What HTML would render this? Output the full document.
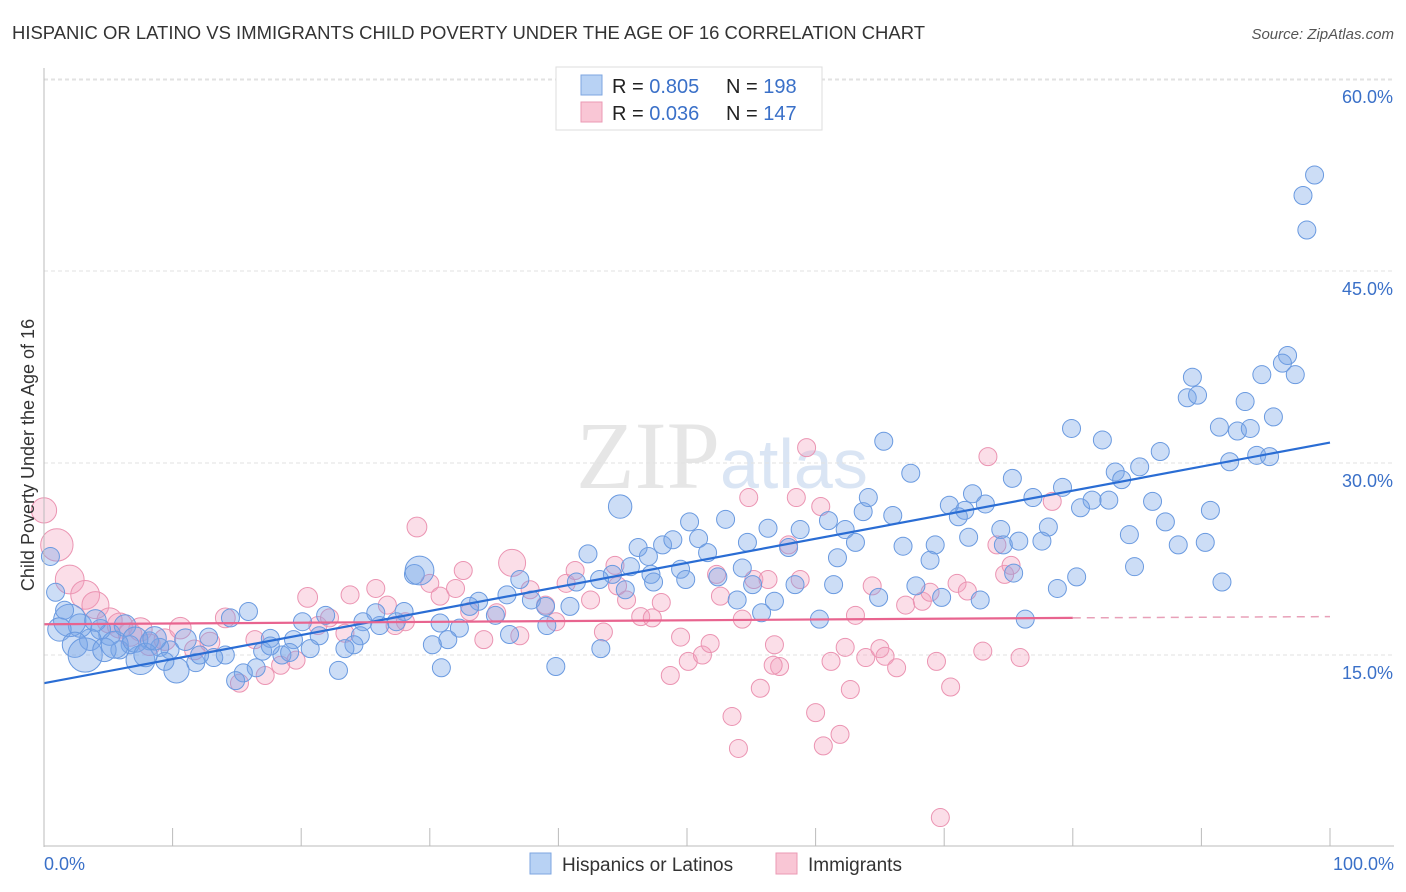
<!DOCTYPE html>
<html><head><meta charset="utf-8"><style>
body{margin:0;background:#fff;font-family:"Liberation Sans",sans-serif}
#wrap{position:relative;width:1406px;height:892px;overflow:hidden}
</style></head><body>
<div id="wrap">
<svg id="svg" width="1406" height="892" xmlns="http://www.w3.org/2000/svg">
<text x="12" y="39" font-size="18" fill="#333" textLength="913" lengthAdjust="spacingAndGlyphs">HISPANIC OR LATINO VS IMMIGRANTS CHILD POVERTY UNDER THE AGE OF 16 CORRELATION CHART</text>
<text x="1394" y="39" font-size="15" fill="#555" font-style="italic" text-anchor="end">Source: ZipAtlas.com</text>
<text x="720" y="488" font-size="96" fill="#e6e6e6" text-anchor="end" font-family="Liberation Serif">ZIP</text>
<text x="720" y="488" font-size="70" fill="#dae5f4">atlas</text>
<g id="grid"></g><g id="pink"></g><g id="blue"></g><g id="lines"></g><g id="axes"></g>
<text transform="translate(34,455) rotate(-90)" font-size="18" fill="#333" text-anchor="middle">Child Poverty Under the Age of 16</text>
<text x="44" y="870" font-size="18" fill="#3a70c8">0.0%</text>
<text x="1394" y="870" font-size="18" fill="#3a70c8" text-anchor="end">100.0%</text>
<g>
<rect x="556" y="67" width="266" height="63" fill="#fff" stroke="#ddd"/>
<rect x="581" y="75" width="21" height="20" fill="#b8d2f4" stroke="#7ea6e0"/>
<rect x="581" y="102" width="21" height="20" fill="#f9c6d5" stroke="#eb9ab4"/>
<text x="612" y="93" font-size="20" fill="#222">R = <tspan fill="#3a70c8">0.805</tspan></text>
<text x="726" y="93" font-size="20" fill="#222">N = <tspan fill="#3a70c8">198</tspan></text>
<text x="612" y="120" font-size="20" fill="#222">R = <tspan fill="#3a70c8">0.036</tspan></text>
<text x="726" y="120" font-size="20" fill="#222">N = <tspan fill="#3a70c8">147</tspan></text>
</g>
<g>
<rect x="530" y="853" width="21" height="21" fill="#b8d2f4" stroke="#7ea6e0"/>
<text x="562" y="871" font-size="19" fill="#333">Hispanics or Latinos</text>
<rect x="776" y="853" width="21" height="21" fill="#f9c6d5" stroke="#eb9ab4"/>
<text x="808" y="871" font-size="19" fill="#333">Immigrants</text>
</g>
</svg></div>
<script>
const yTicks=[15,30,45,60];
const yTickLabels=["15.0%","30.0%","45.0%","60.0%"];
const xTicks=[0,10,20,30,40,50,60,70,80,90,100];
const blueTrend=[[0,12.8],[100,31.6]];
const pinkTrend=[[0,17.4],[80,17.9],[100,18.0]];
const blueX=[98.8,97.9,98.2,96.7,96.3,97.3,89.3,94.7,88.9,89.7,93.4,95.6,91.4,92.8,93.8,79.9,82.3,86.8,92.2,94.3,95.3,85.2,83.3,83.8,65.3,67.4,75.3,79.2,44.8,81.5,80.6,82.8,76.9,70.4,71.6,72.2,73.2,71.1,86.2,90.7,87.2,84.4,78.1,74.4,74.6,75.8,77.6,71.9,69.3,68.9,66.0,66.8,63.7,64.1,62.3,63.1,61.7,61.0,58.8,57.9,56.3,54.7,53.0,50.2,50.9,51.6,46.2,45.6,47.0,48.1,48.9,47.2,42.3,41.4,44.2,43.2,45.2,47.4,49.5,49.9,52.4,54.3,55.1,56.8,58.4,61.4,64.9,67.8,69.8,72.8,75.4,78.8,80.3,88.2,90.3,91.6,84.8,76.3,60.3,55.8,53.9,40.9,37.0,37.9,39.0,36.0,35.1,33.8,33.1,32.3,31.4,30.9,30.2,28.8,29.2,28.0,27.4,26.1,25.8,24.8,24.6,24.1,23.4,22.9,21.9,21.4,20.1,19.4,18.5,17.6,17.0,16.5,15.5,14.9,14.1,13.2,12.8,11.8,10.3,9.8,9.0,8.2,7.5,6.7,5.9,5.1,4.4,3.6,2.8,2.0,1.2,0.9,0.5,1.6,2.4,3.2,4.0,4.7,5.5,6.3,7.1,7.9,8.6,9.4,11.0,12.1,15.9,14.5,39.8,43.3,36.2,39.1,19.1,20.7,17.6,30.8];
const blueY=[52.5,50.9,48.2,38.4,37.8,36.9,36.7,36.9,35.1,35.3,34.8,33.6,32.8,32.5,32.7,32.7,31.8,30.9,30.1,30.6,30.5,29.7,29.3,28.7,31.7,29.2,28.8,28.1,26.6,27.1,26.5,27.1,27.3,26.7,26.3,27.6,26.8,25.8,27.0,26.3,25.4,24.4,25.0,24.8,23.6,23.9,23.9,24.2,23.6,22.4,25.9,23.5,26.2,27.3,24.8,23.8,22.6,25.5,24.8,23.4,24.9,23.8,25.6,25.4,24.1,23.0,23.4,21.9,22.7,23.6,24.0,21.3,22.9,20.7,21.3,20.9,20.1,20.7,21.7,20.9,21.1,21.8,20.5,19.2,20.5,20.5,19.5,20.4,19.5,19.3,21.4,20.2,21.1,23.6,23.8,20.7,21.9,17.8,17.8,18.3,19.3,18.8,20.9,19.3,18.8,19.7,18.1,19.2,18.8,17.1,16.2,14.0,15.8,21.3,21.6,18.4,17.6,17.3,18.3,17.6,16.5,15.8,15.5,13.8,18.1,16.5,17.6,16.2,15.0,16.3,15.3,14.0,13.6,13.0,15.0,14.8,16.4,14.4,13.8,15.4,15.6,16.1,14.6,15.8,15.4,16.6,17.0,16.2,17.3,17.7,17.0,19.9,22.7,18.5,15.8,15.0,17.7,15.4,15.8,17.3,16.2,15.0,16.3,14.5,16.2,15.0,18.4,17.9,14.1,15.5,16.6,17.3,15.2,15.5,15.7,17.5];
const blueSize=[1,1,1,1,1,1,1,1,1,1,1,1,1,1,1,1,1,1,1,1,1,1,1,1,1,1,1,1,1.3,1,1,1,1,1,1,1,1,1,1,1,1,1,1,1,1,1,1,1,1,1,1,1,1,1,1,1,1,1,1,1,1,1,1,1,1,1,1,1,1,1,1,1,1,1,1,1,1,1,1,1,1,1,1,1,1,1,1,1,1,1,1,1,1,1,1,1,1,1,1,1,1,1,1,1,1,1,1,1,1,1,1,1,1,1.1,1.6,1,1,1,1,1,1,1,1,1,1,1,1,1,1,1,1,1,1,1,1,1,1,1,1.4,1,1,1,1.6,1,1,1.2,1.1,1.2,1.3,1.8,1.3,1,1,1,1.4,1.9,1.2,1.3,1.5,1.2,1.4,1.3,1.3,1,1.2,1,1,1,1,1,1,1,1,1,1,1];
const pinkX=[0,1.0,2.0,3.2,4.0,5.1,5.9,6.7,7.5,8.2,9.4,10.6,11.7,12.9,14.1,15.2,16.4,17.2,18.4,19.6,20.5,21.3,22.2,23.4,23.8,25.8,26.7,27.3,28.1,29.0,30.0,30.8,32.0,32.6,33.1,34.2,35.2,36.4,37.0,37.8,39.0,39.8,40.6,41.3,42.5,43.5,44.4,44.6,45.3,46.4,47.3,48.0,48.7,49.5,50.1,51.2,51.8,52.3,52.6,53.5,54.0,54.3,54.8,55.2,55.7,56.3,56.8,57.2,57.9,58.5,58.8,59.3,60.0,60.4,60.6,61.2,61.9,62.3,62.7,63.1,63.9,64.4,65.0,65.4,66.3,67.0,68.3,68.9,69.4,69.7,70.5,71.0,71.8,73.0,73.4,74.1,74.7,75.2,75.9,78.4,56.7];
const pinkY=[26.3,23.6,20.9,19.7,18.9,17.7,17.3,16.6,17.0,15.8,16.2,17.1,15.4,16.0,17.9,12.8,16.2,13.4,14.2,14.6,19.5,17.3,17.9,16.7,19.7,20.2,18.9,17.3,17.6,25.0,20.6,19.6,20.2,21.6,18.4,16.2,18.3,22.2,16.5,20.1,18.9,17.6,20.6,21.6,19.3,16.8,22.0,20.4,19.3,18.0,17.9,19.1,13.4,16.4,14.5,15.0,15.9,21.3,19.6,10.2,7.7,17.8,27.3,20.9,12.4,20.9,15.8,14.1,23.6,27.3,20.9,31.2,10.5,26.6,7.9,14.5,8.8,15.6,12.3,18.1,14.8,20.4,15.5,14.9,14.0,18.9,19.2,19.9,14.5,2.3,12.5,20.6,20.0,15.3,30.5,23.6,21.3,22.0,14.8,27.0,14.2];
const pinkSize=[1.4,1.8,1.6,1.6,1.5,1.4,1.4,1.3,1.3,1.2,1.2,1.2,1.1,1.1,1.1,1,1,1,1,1,1.1,1,1,1,1,1,1,1,1,1.1,1,1,1,1,1,1,1,1.5,1,1,1,1,1,1,1,1,1,1,1,1,1,1,1,1,1,1,1,1,1,1,1,1,1,1,1,1,1,1,1,1,1,1,1,1,1,1,1,1,1,1,1,1,1,1,1,1,1,1,1,1,1,1,1,1,1,1,1,1,1,1,1];
const X=v=>44+v*12.86, Y=v=>847-v*12.8;
const NS="http://www.w3.org/2000/svg";
function mk(tag,attrs,parent){const e=document.createElementNS(NS,tag);for(const k in attrs)e.setAttribute(k,attrs[k]);document.getElementById(parent).appendChild(e);return e;}
yTicks.forEach((t,i)=>{
 const l=mk('line',{x1:44,x2:1394,y1:Y(t),y2:Y(t),stroke:'#e2e2e2','stroke-dasharray':'4,3'},'grid');
 
 
 const tx=mk('text',{x:1393,y:Y(t)+24,'font-size':18,fill:'#3a70c8','text-anchor':'end'},'axes');
 tx.textContent=yTickLabels[i];
 
 
});
const tg=mk('line',{x1:44,x2:1394,y1:80,y2:80,stroke:'#e2e2e2','stroke-dasharray':'4,3'},'grid');


const ax=mk('line',{x1:44,x2:44,y1:68,y2:847,stroke:'#bbb'},'axes');


const bx=mk('line',{x1:44,x2:1394,y1:846,y2:846,stroke:'#bbb'},'axes');


xTicks.forEach(t=>{const l=mk('line',{x1:X(t),x2:X(t),y1:828,y2:846,stroke:'#bbb'},'axes');
 
 });
pinkX.forEach((v,i)=>{const c=mk('circle',{cx:X(v),cy:Y(pinkY[i]),r:9*pinkSize[i],fill:'rgba(244,160,188,0.35)',stroke:'#eb94b2','stroke-width':1},'pink');
 
 });
blueX.forEach((v,i)=>{const c=mk('circle',{cx:X(v),cy:Y(blueY[i]),r:9*blueSize[i],fill:'rgba(120,165,232,0.38)',stroke:'#6a9ae0','stroke-width':1},'blue');
 
 });
const bl=mk('line',{x1:X(blueTrend[0][0]),y1:Y(blueTrend[0][1]),x2:X(blueTrend[1][0]),y2:Y(blueTrend[1][1]),stroke:'#2a6dd4','stroke-width':2.2},'lines');


const pl=mk('line',{x1:X(pinkTrend[0][0]),y1:Y(pinkTrend[0][1]),x2:X(pinkTrend[1][0]),y2:Y(pinkTrend[1][1]),stroke:'#e8648f','stroke-width':2.2},'lines');


const pd=mk('line',{x1:X(pinkTrend[1][0]),y1:Y(pinkTrend[1][1]),x2:X(pinkTrend[2][0]),y2:Y(pinkTrend[2][1]),stroke:'#e8a0b8','stroke-width':1.5,'stroke-dasharray':'8,6'},'lines');


</script></body></html>
